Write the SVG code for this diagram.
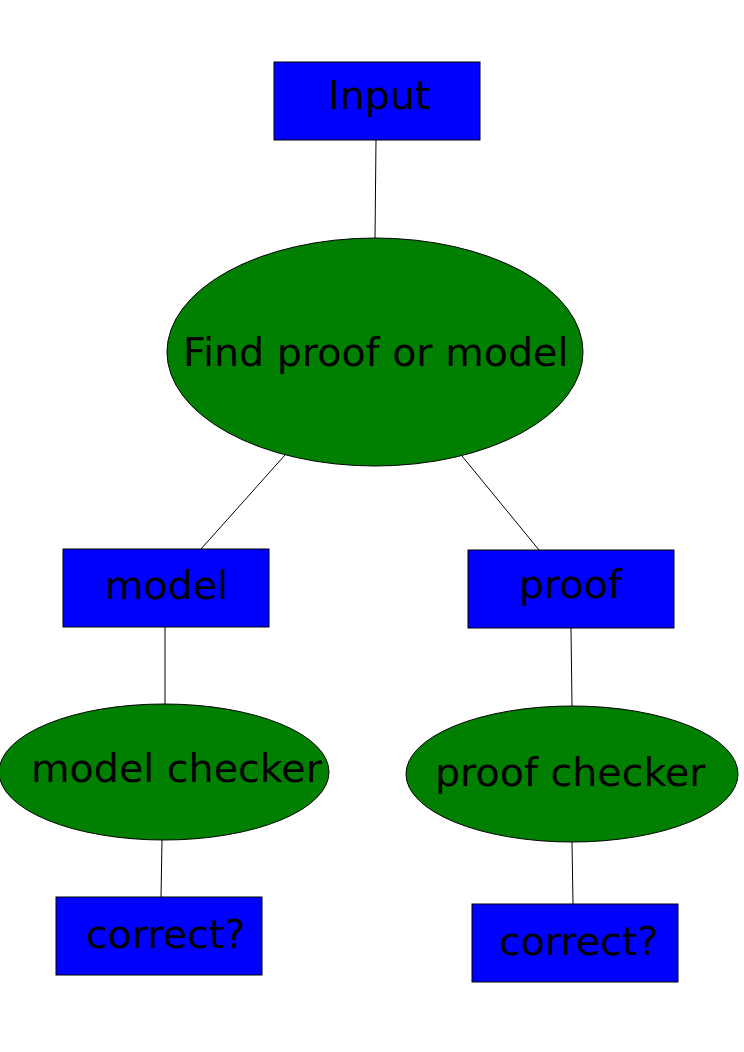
<svg xmlns="http://www.w3.org/2000/svg" width="744" height="1052" viewBox="0 0 744 1052">
<style>
.box{fill:#0000ff;stroke:#000;stroke-width:1}
.ell{fill:#007f00;stroke:#000;stroke-width:1}
.lbl{font-family:"DejaVu Sans",sans-serif;font-size:39.6px;fill:#000}
.con{stroke:#000;stroke-width:1;fill:none}
</style>
<rect width="744" height="1052" fill="#fff"/>
<g id="connectors">
<line class="con" x1="376" y1="140" x2="375" y2="238"/>
<line class="con" x1="285" y1="455" x2="201" y2="549"/>
<line class="con" x1="462" y1="456" x2="539" y2="550"/>
<line class="con" x1="165" y1="627" x2="165" y2="704"/>
<line class="con" x1="571" y1="628" x2="572" y2="706"/>
<line class="con" x1="162" y1="840" x2="161" y2="897"/>
<line class="con" x1="572" y1="842" x2="573" y2="904"/>
</g>
<g id="input">
<rect class="box" x="274" y="62" width="206" height="78"/>
<text class="lbl" x="328" y="109">Input</text>
</g>
<g id="find">
<ellipse class="ell" cx="375" cy="352" rx="208" ry="114"/>
<text class="lbl" x="183" y="366">Find proof or model</text>
</g>
<g id="model">
<rect class="box" x="63" y="549" width="206" height="78"/>
<text class="lbl" x="105" y="599">model</text>
</g>
<g id="proof">
<rect class="box" x="468" y="550" width="206" height="78"/>
<text class="lbl" x="519" y="598">proof</text>
</g>
<g id="modelchecker">
<ellipse class="ell" cx="164" cy="772" rx="165" ry="68"/>
<text class="lbl" x="31" y="782">model checker</text>
</g>
<g id="proofchecker">
<ellipse class="ell" cx="572" cy="774" rx="166" ry="68"/>
<text class="lbl" x="435" y="786">proof checker</text>
</g>
<g id="correct1">
<rect class="box" x="56" y="897" width="206" height="78"/>
<text class="lbl" x="86" y="948">correct?</text>
</g>
<g id="correct2">
<rect class="box" x="472" y="904" width="206" height="78"/>
<text class="lbl" x="499" y="955">correct?</text>
</g>
</svg>
